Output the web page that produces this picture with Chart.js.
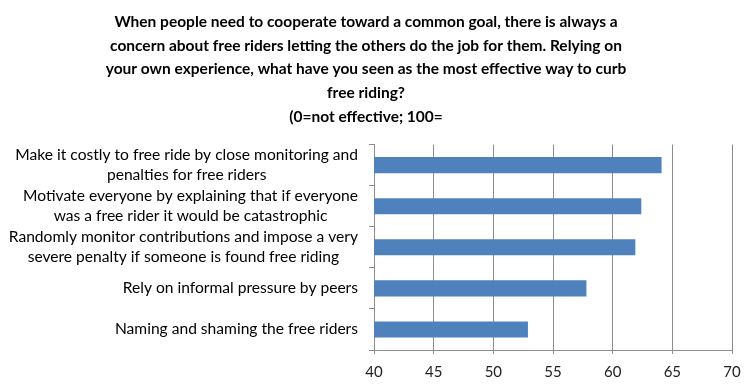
<!DOCTYPE html>
<html>
<head>
<meta charset="utf-8">
<script src="https://cdn.jsdelivr.net/npm/chart.js@4/dist/chart.umd.min.js"></script>
<style>
  html, body { margin: 0; padding: 0; background: #fff; }
  #wrap { width: 754px; height: 387px; }
</style>
</head>
<body>
<div id="wrap"><canvas id="chart" width="754" height="387"></canvas></div>
<script>
const titleLines = [
  "When people need to cooperate toward a common goal, there is always a",
  "concern about free riders letting the others do the job for them. Relying on",
  "your own experience, what have you seen as the most effective way to curb",
  "free riding?",
  "(0=not effective; 100="
];

const categories = [
  ["Make it costly to free ride by close monitoring and", "penalties for free riders"],
  ["Motivate everyone by explaining that if everyone", "was a free rider it would be catastrophic"],
  ["Randomly monitor contributions and impose a very", "severe penalty if someone is found free riding"],
  ["Rely on informal pressure by peers"],
  ["Naming and shaming the free riders"]
];

const scores = [64.1, 62.4, 61.9, 57.8, 52.9];

const xMin = 40;
const xMax = 70;
const xStep = 5;

const labelFont = "15.6px Lato";
const labelLineHeight = 20;

// draws the category labels: block right-aligned, lines centred inside the block
const yLabelPlugin = {
  id: "yLabels",
  afterDraw(chart) {
    const scale = chart.scales.y;
    const ctx = chart.ctx;
    ctx.save();
    ctx.font = labelFont;
    ctx.fillStyle = "#000";
    ctx.textAlign = "center";
    ctx.textBaseline = "middle";
    categories.forEach((lines, i) => {
      const w = Math.max(...lines.map(l => ctx.measureText(l).width));
      const cx = scale.right - 16 - w / 2;
      const cy = scale.getPixelForValue(i);
      lines.forEach((l, j) => {
        ctx.fillText(l, cx, cy + (j - (lines.length - 1) / 2) * labelLineHeight);
      });
    });
    ctx.restore();
  }
};

new Chart(document.getElementById("chart"), {
  type: "bar",
  data: {
    labels: categories,
    datasets: [{
      data: scores,
      backgroundColor: "#4F81BD",
      borderWidth: 0,
      barPercentage: 0.78,
      categoryPercentage: 0.5
    }]
  },
  options: {
    indexAxis: "y",
    responsive: false,
    animation: false,
    layout: { padding: { left: 0, right: 22, top: 0, bottom: 0 } },
    plugins: {
      legend: { display: false },
      tooltip: { enabled: false },
      title: {
        display: true,
        text: titleLines,
        color: "#000",
        font: { family: "Lato", size: 15.5, weight: "bold", lineHeight: 1.53 },
        padding: { top: 10, bottom: 16 }
      }
    },
    scales: {
      x: {
        min: xMin,
        max: xMax,
        ticks: {
          stepSize: xStep,
          color: "#222",
          font: { family: "Lato", size: 15 },
          padding: 9
        },
        grid: {
          color: "#8c8c8c",
          lineWidth: 1,
          tickLength: 4
        },
        border: { color: "#8c8c8c" },
        afterFit(scale) { scale.height = 37; }
      },
      y: {
        ticks: { color: "transparent", font: { family: "Lato", size: 14 } },
        grid: {
          offset: true,
          drawOnChartArea: false,
          color: "#8c8c8c",
          tickLength: 5
        },
        border: { color: "#8c8c8c" },
        afterFit(scale) { scale.width = 374; }
      }
    }
  },
  plugins: [yLabelPlugin]
});
</script>
</body>
</html>
